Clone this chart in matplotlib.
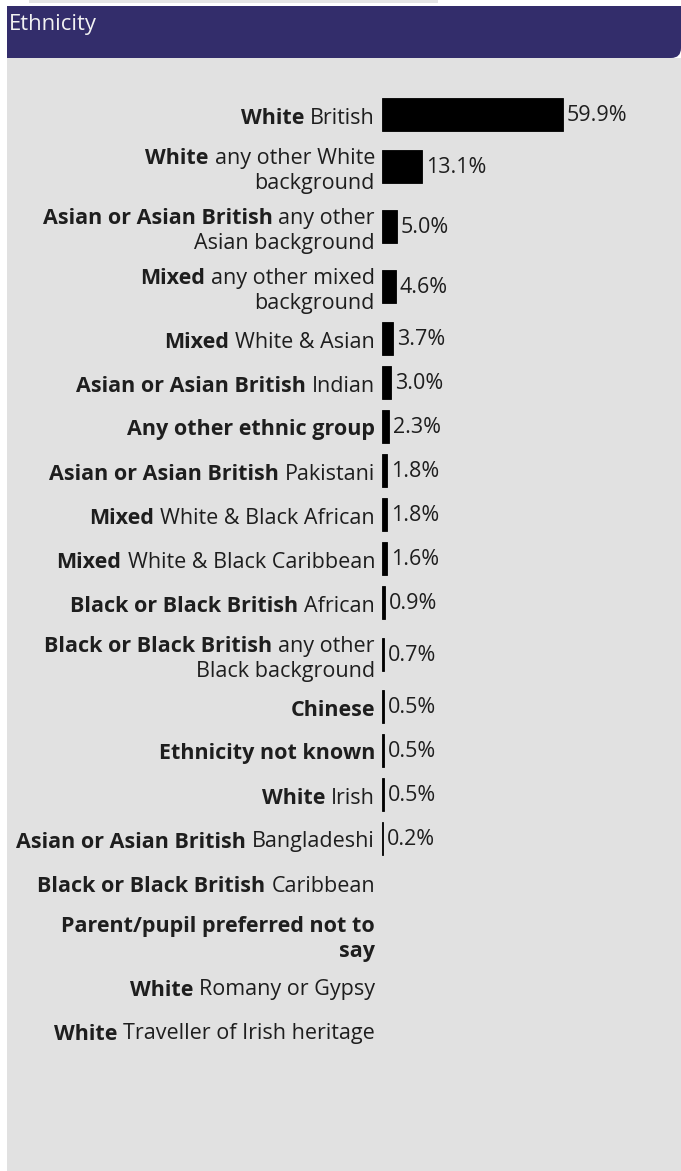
import numpy as np
import matplotlib.pyplot as plt
from matplotlib.patches import Rectangle, FancyBboxPatch

plt.rcParams['font.family'] = ['Open Sans', 'DejaVu Sans']

# bold group name, then the rest of the label ("\n" = line break)
bold_part = ["White", "White", "Asian or Asian British", "Mixed", "Mixed",
             "Asian or Asian British", "Any other ethnic group",
             "Asian or Asian British", "Mixed", "Mixed",
             "Black or Black British", "Black or Black British", "Chinese",
             "Ethnicity not known", "White", "Asian or Asian British",
             "Black or Black British", "Parent/pupil preferred not to\nsay",
             "White", "White"]
rest_part = ["British", "any other White\nbackground", "any other\nAsian background",
             "any other mixed\nbackground", "White & Asian", "Indian", "",
             "Pakistani", "White & Black African", "White & Black Caribbean",
             "African", "any other\nBlack background", "", "", "Irish",
             "Bangladeshi", "Caribbean", "", "Romany or Gypsy",
             "Traveller of Irish heritage"]
pct = [59.9, 13.1, 5.0, 4.6, 3.7, 3.0, 2.3, 1.8, 1.8, 1.6, 0.9, 0.7,
       0.5, 0.5, 0.5, 0.2, np.nan, np.nan, np.nan, np.nan]

W, H = 681, 1171
navy = '#332d6b'
txtcol = '#1e1e1e'
fs = 15.5

fig = plt.figure(figsize=(W / 100, H / 100), dpi=100)
bg = fig.add_axes([0, 0, 1, 1])
bg.set_xlim(0, W)
bg.set_ylim(H, 0)
bg.axis('off')

# grey panel + header
bg.add_patch(Rectangle((7, 58), W - 7, H - 58, fc='#e1e1e1', lw=0))
bg.add_patch(FancyBboxPatch((7, 6), W - 7, 52, boxstyle='round,pad=0,rounding_size=10',
                            fc=navy, ec='none'))
bg.add_patch(Rectangle((7, 6), W - 7 - 12, 52, fc=navy, lw=0))
bg.add_patch(Rectangle((7, 6), W - 7, 40, fc=navy, lw=0))
bg.add_patch(Rectangle((29, 0), 409, 3, fc='#e4e4e4', lw=0))
bg.text(9, 30, 'Ethnicity', color='#f2f2f2', fontsize=15.8, va='baseline')

# split labels into lines of (text, weight) pieces
rows = []
for b, r in zip(bold_part, rest_part):
    lines = [[(bl, 'bold')] for bl in b.split('\n')]
    if r:
        rl = r.split('\n')
        lines[-1].append((rl[0], 'normal'))
        for extra in rl[1:]:
            lines.append([(extra, 'normal')])
    rows.append(lines)

# row layout: one-line rows 44px, two-line rows 60px
heights = [44 if len(l) == 1 else 60 for l in rows]
centers = [114.5]
for i in range(1, len(rows)):
    centers.append(centers[-1] + (heights[i - 1] + heights[i]) / 2)

# bars
x0 = 382
px_per_pct = 3.02
ax = fig.add_axes([x0 / W, 0, (W - x0) / W, 1])
ax.set_xlim(0, (W - x0) / px_per_pct)
ax.set_ylim(H, 0)
ax.axis('off')
vals = np.array(pct)
ok = ~np.isnan(vals)
ax.barh(np.array(centers)[ok], vals[ok], height=32.7, color='black',
        edgecolor='black', linewidth=0.6)
for c, v in zip(np.array(centers)[ok], vals[ok]):
    ax.annotate(f'{v:.1f}%', (v, c + 6.5), xytext=(4, 0), textcoords='offset pixels',
                va='baseline', ha='left', fontsize=fs, color=txtcol)

# mixed-weight, right-aligned category labels
fig.canvas.draw()
rend = fig.canvas.get_renderer()
gap = 6
for c, lines in zip(centers, rows):
    if len(lines) == 1:
        base = [c + 9]
    else:
        base = [c - 2.5, c + 22.8]
    for y, segs in zip(base, lines):
        x = 375
        for txt, wt in reversed(segs):
            t = bg.text(x, y, txt, ha='right', va='baseline', fontsize=fs,
                        fontweight=wt, color=txtcol)
            x -= t.get_window_extent(rend).width + gap

fig.savefig('out.png', dpi=100)
